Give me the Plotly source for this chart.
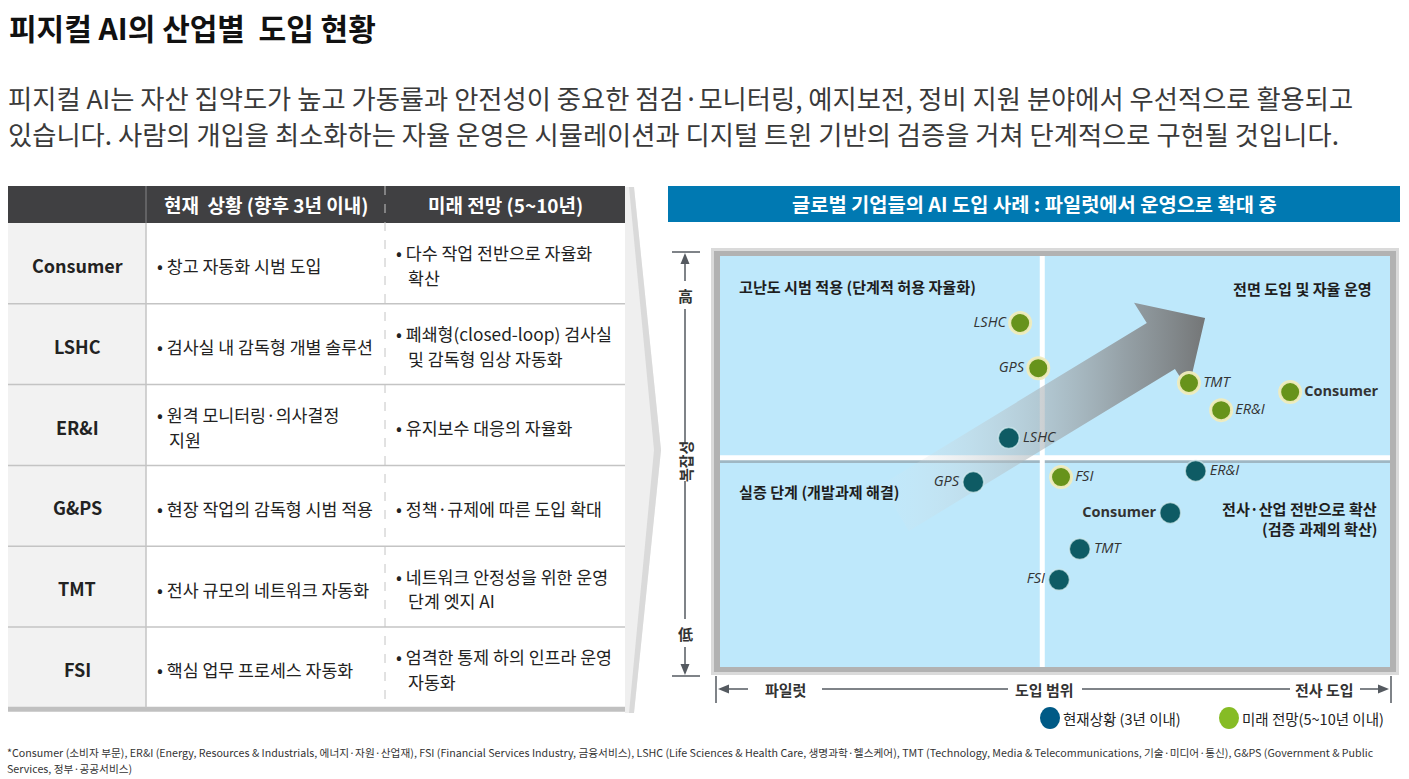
import plotly.graph_objects as go

W, H = 1409, 779
KR = "Noto Sans CJK KR"
LAT = "Open Sans"

# ---------------- text content ----------------
TITLE = "피지컬 AI의 산업별  도입 현황"
SUBTITLE = [
    "피지컬 AI는 자산 집약도가 높고 가동률과 안전성이 중요한 점검·모니터링, 예지보전, 정비 지원 분야에서 우선적으로 활용되고",
    "있습니다. 사람의 개입을 최소화하는 자율 운영은 시뮬레이션과 디지털 트윈 기반의 검증을 거쳐 단계적으로 구현될 것입니다.",
]
TABLE_HEADERS = ["현재  상황 (향후 3년 이내)", "미래 전망 (5~10년)"]
INDUSTRIES = ["Consumer", "LSHC", "ER&I", "G&PS", "TMT", "FSI"]
CURRENT_STATUS = [
    ["창고 자동화 시범 도입"],
    ["검사실 내 감독형 개별 솔루션"],
    ["원격 모니터링·의사결정", "지원"],
    ["현장 작업의 감독형 시범 적용"],
    ["전사 규모의 네트워크 자동화"],
    ["핵심 업무 프로세스 자동화"],
]
FUTURE_OUTLOOK = [
    ["다수 작업 전반으로 자율화", "확산"],
    ["폐쇄형(closed-loop) 검사실", "및 감독형 임상 자동화"],
    ["유지보수 대응의 자율화"],
    ["정책·규제에 따른 도입 확대"],
    ["네트워크 안정성을 위한 운영", "단계 엣지 AI"],
    ["엄격한 통제 하의 인프라 운영", "자동화"],
]
CHART_TITLE = "글로벌 기업들의 AI 도입 사례 : 파일럿에서 운영으로 확대 중"
QUADRANT_LABELS = {
    "tl": "고난도 시범 적용 (단계적 허용 자율화)",
    "tr": "전면 도입 및 자율 운영",
    "bl": "실증 단계 (개발과제 해결)",
    "br": ["전사·산업 전반으로 확산", "(검증 과제의 확산)"],
}
Y_AXIS_LABELS = ["高", "복잡성", "低"]
X_AXIS_LABELS = ["파일럿", "도입 범위", "전사 도입"]
LEGEND_LABELS = ["현재상황 (3년 이내)", "미래 전망(5~10년 이내)"]
FOOTNOTE = [
    "*Consumer (소비자 부문), ER&I (Energy, Resources & Industrials, 에너지·자원·산업재), FSI (Financial Services Industry, 금융서비스), LSHC (Life Sciences & Health Care, 생명과학·헬스케어), TMT (Technology, Media & Telecommunications, 기술·미디어·통신), G&PS (Government & Public",
    "Services, 정부·공공서비스)",
]

# ---------------- chart data (0-100 scale: adoption scope x, complexity y) ----------------
CURRENT_LABELS = ["LSHC", "GPS", "ER&I", "Consumer", "TMT", "FSI"]
CURRENT_X = [43.1, 37.8, 71.0, 67.2, 53.7, 50.6]
CURRENT_Y = [55.7, 45.0, 47.7, 37.5, 28.7, 21.2]
CURRENT_POS = ["middle right", "middle left", "middle right", "middle left", "middle right", "middle left"]

FUTURE_LABELS = ["LSHC", "GPS", "TMT", "ER&I", "Consumer", "FSI"]
FUTURE_X = [44.8, 47.5, 70.0, 74.8, 85.1, 50.9]
FUTURE_Y = [83.7, 72.7, 69.1, 62.5, 66.9, 46.2]
FUTURE_POS = ["middle left", "middle left", "middle right", "middle right", "middle right", "middle right"]

QUAD_X = 48.1
QUAD_Y = 50.9

# decorative trend arrow outline (in chart units)
ARROW_X = [24.0, 63.7, 61.8, 72.4, 69.9, 67.9, 28.2, 24.0]
ARROW_Y = [44.3, 83.7, 88.6, 84.9, 67.4, 72.5, 33.1, 44.3]

# ---------------- colours ----------------
C_CURRENT = "#0e5b64"
C_FUTURE = "#67931b"
C_LEG_CURRENT = "#005a86"
C_LEG_FUTURE = "#86bc25"
C_PANEL = "#bee8fb"
C_HEADER = "#404042"
C_BAR = "#0079b2"


def PX(x):
    return x / W


def PY(y):
    return 1 - y / H


ann = []
shapes = []


def esc(s):
    return s.replace("&", "&amp;")


def txt(x, y, s, size, color="#222", xa="left", bold=False, angle=0, family=KR, italic=False):
    t = esc(s)
    if bold:
        t = f"<b>{t}</b>"
    if italic:
        t = f"<i>{t}</i>"
    ann.append(dict(x=PX(x), y=PY(y), xref="paper", yref="paper", text=t, showarrow=False,
                    xanchor=xa, yanchor="middle", textangle=angle,
                    font=dict(family=family, size=size, color=color)))


def rect(x0, y0, x1, y1, fill, layer="below"):
    shapes.append(dict(type="rect", xref="paper", yref="paper", x0=PX(x0), x1=PX(x1), y0=PY(y1), y1=PY(y0),
                       fillcolor=fill, line=dict(width=0), layer=layer))


def line(x0, y0, x1, y1, color, width=1.0, dash="solid", layer="below"):
    shapes.append(dict(type="line", xref="paper", yref="paper", x0=PX(x0), x1=PX(x1), y0=PY(y0), y1=PY(y1),
                       line=dict(color=color, width=width, dash=dash), layer=layer))


def poly(pts, fill, layer="below"):
    d = "M " + " L ".join(f"{PX(x):.5f},{PY(y):.5f}" for x, y in pts) + " Z"
    shapes.append(dict(type="path", xref="paper", yref="paper", path=d, fillcolor=fill,
                       line=dict(width=0), layer=layer))


# ---------------- title & subtitle ----------------
txt(7, 27, TITLE, 30, "#111", bold=True)
txt(6, 97, SUBTITLE[0], 26.3, "#3a3a3a")
txt(6, 133, SUBTITLE[1], 26.3, "#3a3a3a")

# ---------------- table ----------------
T_L, T_R, T_TOP, T_HDR = 8, 625, 186, 223
C1, C2 = 146, 385
ROW_H = 80.8
rect(T_L, T_TOP, T_R, T_HDR, C_HEADER)
T_BOT = T_HDR + ROW_H * len(INDUSTRIES)
rect(T_L, T_HDR, C1, T_BOT, "#f2f2f2")
for i in range(1, len(INDUSTRIES)):
    yy = T_HDR + ROW_H * i
    line(T_L, yy, T_R, yy, "#c4c4c4", 1.5)
rect(T_L, T_BOT - 1, T_R, T_BOT + 4, "#c0c0c0")
line(C1, T_HDR, C1, T_BOT, "#c4c4c4", 1.5)
line(C1, T_TOP, C1, T_HDR, "#7a7a7c", 1.2)
line(C2, T_TOP, C2, T_BOT, "#c4c4c4", 1.0, dash="dash")

txt((C1 + C2) / 2, 205, TABLE_HEADERS[0], 19, "white", xa="center", bold=True)
txt((C2 + T_R) / 2, 205, TABLE_HEADERS[1], 19, "white", xa="center", bold=True)

for i, ind in enumerate(INDUSTRIES):
    cy = T_HDR + ROW_H * (i + 0.5) + 1.5
    txt((T_L + C1) / 2, cy, ind, 18, "#222", xa="center", bold=True)
    for col, (lines_, bx) in enumerate([(CURRENT_STATUS[i], 155), (FUTURE_OUTLOOK[i], 394)]):
        if len(lines_) == 1:
            txt(bx, cy + 1, "• " + lines_[0], 17.3, "#222")
        else:
            txt(bx, cy - 12, "• " + lines_[0], 17.3, "#222")
            txt(bx + 12, cy + 12.5, lines_[1], 17.3, "#222")

# page-curl wedge between table and chart
poly([(625, 187), (634, 187), (661, 450), (634, 713), (625, 713)], "#efefef")
poly([(629, 187), (634, 187), (661, 450), (634, 713), (629, 713), (654, 450)], "#dadada")

# ---------------- chart header bar ----------------
rect(668, 186, 1400, 222, C_BAR)
txt(1034, 204, CHART_TITLE, 19.8, "white", xa="center", bold=True)

# panel frame (gray shadow) then blue panel
rect(711, 248, 1399, 675, "#dadada")
rect(714, 251, 1396, 672, "#b2b2b2")
shapes.append(dict(type="rect", xref="x domain", yref="y domain", x0=0, x1=1, y0=0, y1=1,
                   fillcolor=C_PANEL, line=dict(width=0), layer="below"))
# quadrant dividers
shapes.append(dict(type="line", xref="x domain", yref="y", x0=0, x1=1, y0=QUAD_Y - 0.9, y1=QUAD_Y - 0.9,
                   line=dict(color="#9fb7c3", width=3), layer="below"))
shapes.append(dict(type="line", xref="x domain", yref="y", x0=0, x1=1, y0=QUAD_Y, y1=QUAD_Y,
                   line=dict(color="white", width=5), layer="below"))
shapes.append(dict(type="line", xref="x", yref="y domain", x0=QUAD_X, x1=QUAD_X, y0=0, y1=1,
                   line=dict(color="white", width=5), layer="below"))

# quadrant labels
txt(737, 286, QUADRANT_LABELS["tl"], 15.1, "#1e1e1e", bold=True)
txt(1374, 288, QUADRANT_LABELS["tr"], 15.1, "#1e1e1e", xa="right", bold=True)
txt(737, 491, QUADRANT_LABELS["bl"], 15.1, "#1e1e1e", bold=True)
txt(1379, 508, QUADRANT_LABELS["br"][0], 15.1, "#1e1e1e", xa="right", bold=True)
txt(1379, 528, QUADRANT_LABELS["br"][1], 15.1, "#1e1e1e", xa="right", bold=True)

# ---------------- y-axis decoration (complexity) ----------------
AX = "#555a60"
YX = 685
line(672, 252, 700, 252, AX, 1.5)
line(672, 676, 700, 676, AX, 1.5)
for a, b in [(262, 281), (309, 444), (481, 619), (647, 666)]:
    line(YX, a, YX, b, AX, 1.5)
poly([(YX, 253), (YX - 4.5, 264), (YX + 4.5, 264)], AX)
poly([(YX, 675), (YX - 4.5, 664), (YX + 4.5, 664)], AX)
txt(YX, 295, Y_AXIS_LABELS[0], 15, "#333", xa="center", bold=True)
txt(YX, 462, Y_AXIS_LABELS[1], 15, "#333", xa="center", bold=True, angle=-90)
txt(YX, 633, Y_AXIS_LABELS[2], 15, "#333", xa="center", bold=True)

# ---------------- x-axis decoration (adoption scope) ----------------
XY = 689
line(716, 676, 716, 703, AX, 1.5)
line(1391, 676, 1391, 703, AX, 1.5)
for a, b in [(726, 748), (822, 1008), (1082, 1290), (1360, 1381)]:
    line(a, XY, b, XY, AX, 1.5)
poly([(718, XY), (729, XY - 4.5), (729, XY + 4.5)], AX)
poly([(1389, XY), (1378, XY - 4.5), (1378, XY + 4.5)], AX)
txt(785, XY, X_AXIS_LABELS[0], 15, "#333", xa="center", bold=True)
txt(1044, XY, X_AXIS_LABELS[1], 15, "#333", xa="center", bold=True)
txt(1324, XY, X_AXIS_LABELS[2], 15, "#333", xa="center", bold=True)

# ---------------- legend ----------------
for cx, col, lab in [(1050, C_LEG_CURRENT, LEGEND_LABELS[0]), (1229, C_LEG_FUTURE, LEGEND_LABELS[1])]:
    shapes.append(dict(type="circle", xref="paper", yref="paper", x0=PX(cx - 10), x1=PX(cx + 10),
                       y0=PY(729), y1=PY(707), fillcolor=col, line=dict(width=0)))
    txt(cx + 11, 718, lab, 14.5, "#222")

# ---------------- footnote ----------------
txt(5, 752, FOOTNOTE[0], 10.7, "#333")
txt(5, 768, FOOTNOTE[1], 10.7, "#333")

# ---------------- traces ----------------
fig = go.Figure()
fig.add_trace(go.Scatter(
    x=ARROW_X, y=ARROW_Y, mode="lines", fill="toself", line=dict(width=0),
    fillgradient=dict(type="horizontal", colorscale=[
        [0.0, "rgba(225,235,240,0.05)"],
        [0.35, "rgba(185,195,200,0.45)"],
        [0.75, "rgba(140,145,148,0.82)"],
        [1.0, "rgba(112,112,112,0.95)"],
    ]),
    hoverinfo="skip", showlegend=False))


def fmt_labels(labels):
    out = []
    for s in labels:
        if s == "Consumer":
            out.append("<b>" + esc(s) + "</b>")
        else:
            out.append("<i>" + esc(s) + "</i>")
    return out


fig.add_trace(go.Scatter(
    x=CURRENT_X, y=CURRENT_Y, mode="markers+text", text=fmt_labels(CURRENT_LABELS),
    textposition=CURRENT_POS, textfont=dict(family=LAT, size=14.5, color="#333"),
    marker=dict(size=21, color=C_CURRENT, line=dict(color="rgba(210,235,240,0.7)", width=1.5)),
    name=LEGEND_LABELS[0], showlegend=False, hoverinfo="text"))
fig.add_trace(go.Scatter(
    x=FUTURE_X, y=FUTURE_Y, mode="markers+text", text=fmt_labels(FUTURE_LABELS),
    textposition=FUTURE_POS, textfont=dict(family=LAT, size=14.5, color="#333"),
    marker=dict(size=21, color=C_FUTURE, line=dict(color="rgba(240,236,190,0.95)", width=3)),
    name=LEGEND_LABELS[1], showlegend=False, hoverinfo="text"))

fig.update_layout(
    width=W, height=H, margin=dict(l=0, r=0, t=0, b=0),
    paper_bgcolor="white", plot_bgcolor="rgba(0,0,0,0)", showlegend=False,
    xaxis=dict(domain=[PX(720), PX(1390)], range=[0, 100], visible=False, fixedrange=True),
    yaxis=dict(domain=[PY(667), PY(256)], range=[0, 100], visible=False, fixedrange=True),
    annotations=ann, shapes=shapes, font=dict(family=KR),
)

fig.write_html("out.html", config={"displayModeBar": False},
               post_script="document.body.style.margin='0';document.body.style.overflow='hidden';")
